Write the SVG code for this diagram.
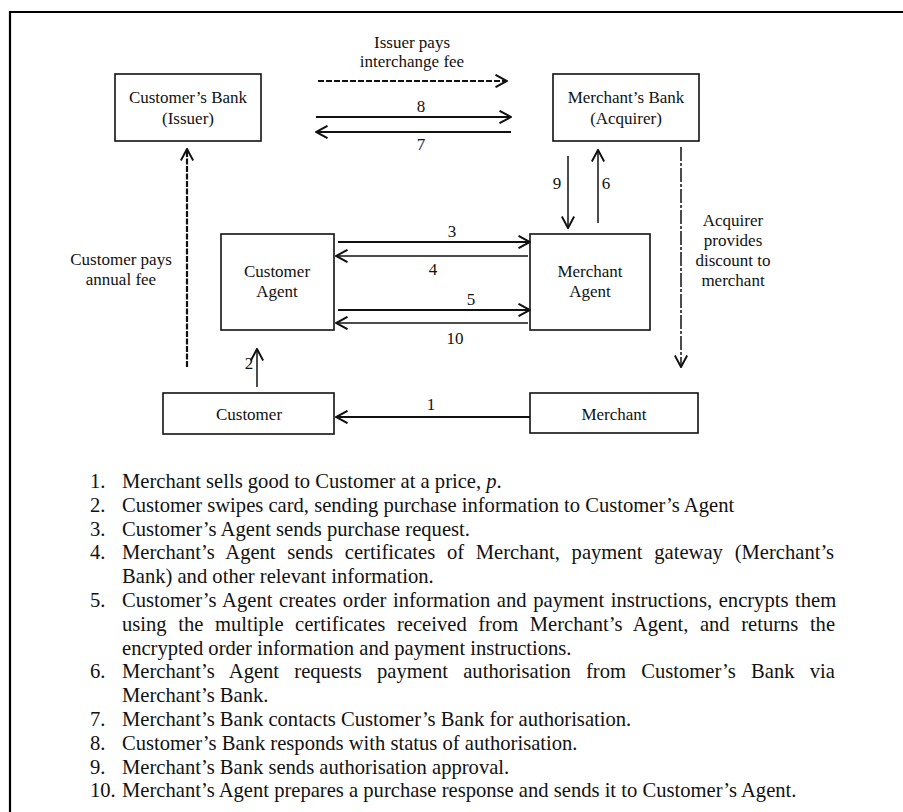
<svg xmlns="http://www.w3.org/2000/svg" width="903" height="812" viewBox="0 0 903 812">
<style>
text{font-family:"Liberation Serif","Times New Roman",serif;fill:#111}
.d{font-size:17px;text-anchor:middle}
.l{font-size:20.6px}
.box{fill:#fff;stroke:#111;stroke-width:1.6}
.c{fill:none;stroke:#111}
.t{stroke-width:2.2}
.n{stroke-width:1.5}
</style>
<defs>
<marker id="ah" viewBox="0 0 14 14" refX="13" refY="7" markerWidth="14" markerHeight="14" markerUnits="userSpaceOnUse" orient="auto">
<path d="M1.5,0.8 L13,7 L1.5,13.2" fill="none" stroke="#111" stroke-width="2"/>
</marker>
</defs>
<rect width="903" height="812" fill="#fff"/>
<path d="M10,812 V12 H903" fill="none" stroke="#000" stroke-width="2.2"/>

<g id="customers-bank">
<rect class="box" x="115" y="74" width="146" height="67"/>
<text class="d" x="188" y="103">Customer’s Bank</text>
<text class="d" x="188" y="124">(Issuer)</text>
</g>
<g id="merchants-bank">
<rect class="box" x="553" y="74" width="146" height="67"/>
<text class="d" x="626" y="103">Merchant’s Bank</text>
<text class="d" x="626" y="124">(Acquirer)</text>
</g>
<g id="customer-agent">
<rect class="box" x="221" y="234" width="113" height="96"/>
<text class="d" x="277" y="277">Customer</text>
<text class="d" x="277" y="297">Agent</text>
</g>
<g id="merchant-agent">
<rect class="box" x="530" y="234" width="120" height="96"/>
<text class="d" x="590" y="277">Merchant</text>
<text class="d" x="590" y="297">Agent</text>
</g>
<g id="customer">
<rect class="box" x="163" y="393" width="171" height="41"/>
<text class="d" x="249" y="420">Customer</text>
</g>
<g id="merchant">
<rect class="box" x="530" y="393" width="168" height="40"/>
<text class="d" x="614" y="420">Merchant</text>
</g>

<g id="connectors">
<line class="c t" x1="318" y1="81" x2="507" y2="81" stroke-dasharray="6 2" marker-end="url(#ah)"/>
<line class="c t" x1="316" y1="117" x2="511" y2="117" marker-end="url(#ah)"/>
<line class="c t" x1="511" y1="132" x2="316" y2="132" marker-end="url(#ah)"/>
<line class="c n" x1="568" y1="156" x2="568" y2="228" marker-end="url(#ah)"/>
<line class="c n" x1="598" y1="223" x2="598" y2="150" marker-end="url(#ah)"/>
<line class="c n" x1="681" y1="147" x2="681" y2="367" stroke-dasharray="14 2 3 2" marker-end="url(#ah)"/>
<line class="c t" x1="187" y1="367" x2="187" y2="149" stroke-dasharray="6 1.5" marker-end="url(#ah)"/>
<line class="c t" x1="338" y1="242" x2="530" y2="242" marker-end="url(#ah)"/>
<line class="c n" x1="528" y1="256" x2="336" y2="256" marker-end="url(#ah)"/>
<line class="c t" x1="338" y1="310" x2="530" y2="310" marker-end="url(#ah)"/>
<line class="c n" x1="528" y1="323" x2="336" y2="323" marker-end="url(#ah)"/>
<line class="c n" x1="257" y1="387" x2="257" y2="349" marker-end="url(#ah)"/>
<line class="c t" x1="530" y1="417" x2="336" y2="417" marker-end="url(#ah)"/>
<text class="d" x="412" y="48">Issuer pays</text>
<text class="d" x="412" y="67">interchange fee</text>
<text class="d" x="421" y="112">8</text>
<text class="d" x="421" y="150">7</text>
<text class="d" x="557" y="189">9</text>
<text class="d" x="606" y="189">6</text>
<text class="d" x="733" y="226">Acquirer</text>
<text class="d" x="733" y="246">provides</text>
<text class="d" x="733" y="266">discount to</text>
<text class="d" x="733" y="286">merchant</text>
<text class="d" x="121" y="265">Customer pays</text>
<text class="d" x="121" y="285">annual fee</text>
<text class="d" x="452" y="237">3</text>
<text class="d" x="433" y="275">4</text>
<text class="d" x="471" y="305">5</text>
<text class="d" x="455" y="344">10</text>
<text class="d" x="249" y="369">2</text>
<text class="d" x="431" y="410">1</text>
</g>

<g id="legend">
<text class="l" x="90" y="488">1.</text>
<text class="l" x="122" y="488">Merchant sells good to Customer at a price, <tspan font-style="italic">p</tspan>.</text>
<text class="l" x="90" y="511.8">2.</text>
<text class="l" x="122" y="511.8">Customer swipes card, sending purchase information to Customer’s Agent</text>
<text class="l" x="90" y="535.6">3.</text>
<text class="l" x="122" y="535.6">Customer’s Agent sends purchase request.</text>
<text class="l" x="90" y="559.4">4.</text>
<text class="l" x="122" y="559.4" word-spacing="6.6">Merchant’s Agent sends certificates of Merchant, payment gateway (Merchant’s</text>
<text class="l" x="122" y="583.2">Bank) and other relevant information.</text>
<text class="l" x="90" y="607">5.</text>
<text class="l" x="122" y="607" word-spacing="1.5">Customer’s Agent creates order information and payment instructions, encrypts them</text>
<text class="l" x="122" y="630.8" word-spacing="6.4">using the multiple certificates received from Merchant’s Agent, and returns the</text>
<text class="l" x="122" y="654.6">encrypted order information and payment instructions.</text>
<text class="l" x="90" y="678.4">6.</text>
<text class="l" x="122" y="678.4" word-spacing="10.1">Merchant’s Agent requests payment authorisation from Customer’s Bank via</text>
<text class="l" x="122" y="702.2">Merchant’s Bank.</text>
<text class="l" x="90" y="726">7.</text>
<text class="l" x="122" y="726">Merchant’s Bank contacts Customer’s Bank for authorisation.</text>
<text class="l" x="90" y="749.8">8.</text>
<text class="l" x="122" y="749.8">Customer’s Bank responds with status of authorisation.</text>
<text class="l" x="90" y="773.6">9.</text>
<text class="l" x="122" y="773.6">Merchant’s Bank sends authorisation approval.</text>
<text class="l" x="90" y="797.4">10.</text>
<text class="l" x="122" y="797.4">Merchant’s Agent prepares a purchase response and sends it to Customer’s Agent.</text>
</g>
</svg>
